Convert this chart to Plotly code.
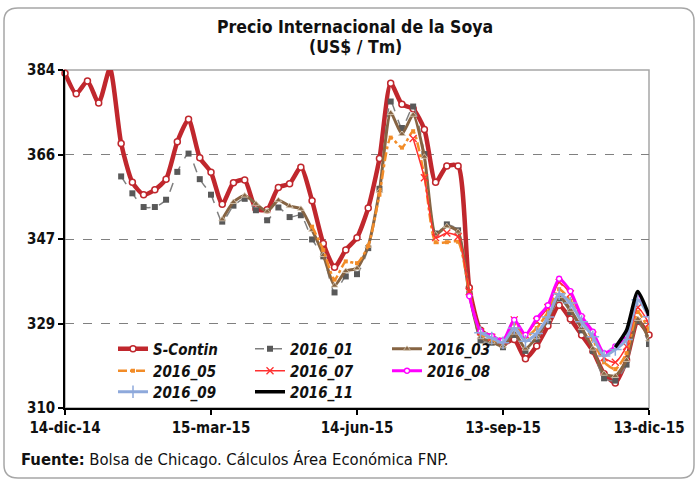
import plotly.graph_objects as go
import pandas as pd

dates = pd.date_range("2014-12-14", periods=53, freq="7D")

s_contin = [383.3, 378.8, 381.6, 376.8, 384.3, 367.9, 359.4, 356.7, 357.8, 360.1,
            368.3, 373.2, 364.8, 361.6, 354.6, 359.3, 359.9, 353.6, 353.4, 358.3,
            359.1, 362.7, 355.4, 346.0, 340.8, 344.6, 347.3, 353.8, 364.6, 381.1,
            376.5, 375.5, 371.0, 359.4, 363.0, 363.0, 336.3, 327.0, 325.5, 324.0,
            325.0, 320.8, 323.6, 328.0, 332.5, 329.5, 326.0, 322.5, 317.5, 315.5,
            320.5, 329.0, 326.0]
c2016_01 = [None]*5 + [360.7, 357.0, 354.0, 354.0, 355.6, 361.7, 365.7, 360.1, 356.7, 350.8,
            354.3, 355.8, 353.3, 351.1, 353.9, 351.8, 352.2, 346.9, 343.2, 335.3,
            338.8, 339.3, 345.0, 358.0, 377.1, 371.3, 376.0, 365.6, 348.2, 350.2,
            348.9, 335.0, 324.8, 324.3, 323.3, 326.0, 322.5, 325.0, 329.0, 334.0,
            331.0, 327.0, 322.5, 316.5, 316.0, 319.5, 329.0, 324.0]
c2016_03 = [None]*14 + [351.3, 355.1, 356.5, 354.7, 353.0, 355.5, 354.2, 353.6, 349.0, 343.5,
            336.8, 340.0, 340.6, 345.5, 357.5, 374.6, 370.0, 374.2, 365.0, 348.0,
            349.8, 348.6, 335.0, 325.5, 324.5, 323.5, 326.5, 323.0, 325.5, 329.5,
            334.5, 331.5, 327.5, 323.0, 317.5, 317.0, 320.5, 329.5, 325.0]
c2016_05 = [None]*22 + [349.7, 344.6, 338.1, 342.1, 341.7, 345.5, 356.7, 369.2, 367.0, 370.6,
            360.8, 346.3, 346.3, 346.4, 335.5, 326.2, 325.0, 324.5, 328.5, 325.5,
            327.5, 331.0, 336.0, 333.5, 329.0, 325.0, 320.0, 318.5, 322.0, 331.0,
            327.0]
c2016_07 = [None]*31 + [369.0, 360.4, 347.3, 348.3, 347.5, 335.5, 326.7, 325.5, 324.7, 329.3,
            326.0, 329.0, 332.0, 337.5, 335.0, 329.5, 326.0, 321.0, 320.0, 323.5,
            332.0, 328.5]
c2016_08 = [None]*36 + [334.5, 326.8, 325.8, 324.8, 329.3, 326.0, 329.6, 332.5, 338.3, 335.6,
            330.1, 326.7, 322.0, 323.5, 326.0, 334.0, 330.5]
c2016_09 = [None]*37 + [326.5, 325.3, 324.3, 327.5, 324.6, 326.3, 329.9, 335.0, 333.0, 328.9,
            325.6, 321.4, 322.8, 325.0, 333.7, 330.0]
c2016_11 = [None]*49 + [323.3, 327.0, 335.5, 330.2]

x_tickvals = ["2014-12-14", "2015-03-15", "2015-06-14", "2015-09-13", "2015-12-13"]
x_ticktext = ["14-dic-14", "15-mar-15", "14-jun-15", "13-sep-15", "13-dic-15"]
y_tickvals = [310, 328.5, 347, 365.5, 384]
y_ticktext = ["310", "329", "347", "366", "384"]

FONT = "Liberation Sans Narrow, Arial Narrow, DejaVu Sans Condensed, Liberation Sans, Arial, sans-serif"

fig = go.Figure()
series = [
    dict(name="S-Contin", y=s_contin, legend="legend",
         line=dict(color="#C0272D", width=4.5, shape="spline", smoothing=0.6),
         marker=dict(symbol="circle", size=6, color="white", line=dict(color="#C0272D", width=1.5))),
    dict(name="2016_01", y=c2016_01, legend="legend",
         line=dict(color="#7F7F7F", width=1.5, dash="dash", shape="spline", smoothing=0.6),
         marker=dict(symbol="square", size=6, color="#595959")),
    dict(name="2016_03", y=c2016_03, legend="legend",
         line=dict(color="#866443", width=3, shape="spline", smoothing=0.6),
         marker=dict(symbol="triangle-up", size=6, color="#866443", line=dict(color="#D9CBB8", width=0.8))),
    dict(name="2016_05", y=c2016_05, legend="legend2",
         line=dict(color="#F28C28", width=2.5, dash="dashdot", shape="spline", smoothing=0.6),
         marker=dict(symbol="square", size=4, color="#F28C28")),
    dict(name="2016_07", y=c2016_07, legend="legend2",
         line=dict(color="#FF3030", width=1.5, shape="spline", smoothing=0.6),
         marker=dict(symbol="x-thin", size=7, color="#FF3030", line=dict(color="#FF3030", width=1.3))),
    dict(name="2016_08", y=c2016_08, legend="legend2",
         line=dict(color="#FF00FF", width=3, shape="spline", smoothing=0.6),
         marker=dict(symbol="circle", size=5, color="white", line=dict(color="#FF00FF", width=1.3))),
    dict(name="2016_09", y=c2016_09, legend="legend3",
         line=dict(color="#8EA9DB", width=3, shape="spline", smoothing=0.6),
         marker=dict(symbol="cross-thin", size=9, color="#8EA9DB", line=dict(color="#8EA9DB", width=1.5))),
    dict(name="2016_11", y=c2016_11, legend="legend3",
         line=dict(color="#000000", width=3.5, shape="spline", smoothing=0.6),
         marker=dict(size=1, opacity=0)),
]
for s in series:
    fig.add_trace(go.Scatter(x=dates, y=s["y"], name=s["name"], mode="lines+markers",
                             line=s["line"], marker=s["marker"], legend=s["legend"],
                             cliponaxis=False if s["name"] == "S-Contin" else True))

L = 65; R = 649; T = 70; B = 408
W = 699; H = 482
pw = R - L; ph = B - T

def px(x):
    return (x - L) / pw

def py(y):
    return (B - y) / ph

legend_common = dict(orientation="h", xanchor="left", yanchor="middle",
                     bgcolor="rgba(0,0,0,0)", entrywidth=92, entrywidthmode="pixels",
                     font=dict(family=FONT, size=15, color="#111111", weight="bold", style="italic"),
                     tracegroupgap=0, itemsizing="trace")

fig.update_layout(
    width=W, height=H,
    margin=dict(l=L, r=W - R, t=T, b=H - B),
    paper_bgcolor="white", plot_bgcolor="white",
    font=dict(family=FONT, color="#111111"),
    showlegend=True,
    legend=dict(x=px(113), y=py(349), **legend_common),
    legend2=dict(x=px(113), y=py(371), **legend_common),
    legend3=dict(x=px(113), y=py(392), **legend_common),
    xaxis=dict(type="date", range=["2014-12-14", "2015-12-13"],
               tickvals=x_tickvals, ticktext=x_ticktext,
               showgrid=False, zeroline=False,
               showline=True, linecolor="black", linewidth=1.5,
               ticks="outside", ticklen=5, tickcolor="black", tickwidth=1.5,
               tickfont=dict(family=FONT, size=15, color="#111111", weight="bold")),
    yaxis=dict(range=[310, 384], tickvals=y_tickvals, ticktext=y_ticktext,
               showgrid=True, gridcolor="#808080", griddash="dash", gridwidth=1,
               zeroline=False,
               showline=True, linecolor="black", linewidth=1.5,
               ticks="outside", ticklen=5, tickcolor="black", tickwidth=1.5,
               tickfont=dict(family=FONT, size=15, color="#111111", weight="bold")),
    shapes=[
        dict(type="rect", xref="paper", yref="paper", x0=0, y0=0, x1=1, y1=1,
             line=dict(color="#A6A6A6", width=1.5), layer="below"),
        dict(type="path", xref="paper", yref="paper", layer="below",
             path=("M {a},{b} L {c},{b} Q {d},{b} {d},{e} L {d},{f} Q {d},{g} {c},{g} "
                   "L {a},{g} Q {h},{g} {h},{f} L {h},{e} Q {h},{b} {a},{b} Z").format(
                 a=px(18), c=px(681), b=py(8), d=px(694), e=py(21), f=py(465), g=py(478), h=px(4)),
             line=dict(color="#A6A6A6", width=1.5)),
    ],
    annotations=[
        dict(text="<b>Precio Internacional de la Soya</b>", x=px(355), y=py(27),
             xref="paper", yref="paper", showarrow=False, xanchor="center", yanchor="middle",
             font=dict(family=FONT, size=17.5, color="#111111")),
        dict(text="<b>(US$ / Tm)</b>", x=px(355), y=py(47),
             xref="paper", yref="paper", showarrow=False, xanchor="center", yanchor="middle",
             font=dict(family=FONT, size=17.5, color="#111111")),
        dict(text="<b>Fuente:</b> Bolsa de Chicago. Cálculos Área Económica FNP.",
             x=px(19), y=py(460), xref="paper", yref="paper", showarrow=False,
             xanchor="left", yanchor="middle",
             font=dict(family=FONT, size=16.5, color="#111111")),
    ],
)

fig.write_html("out.html", config={"displayModeBar": False},
               post_script="document.body.style.margin='0px';document.body.style.padding='0px';")
